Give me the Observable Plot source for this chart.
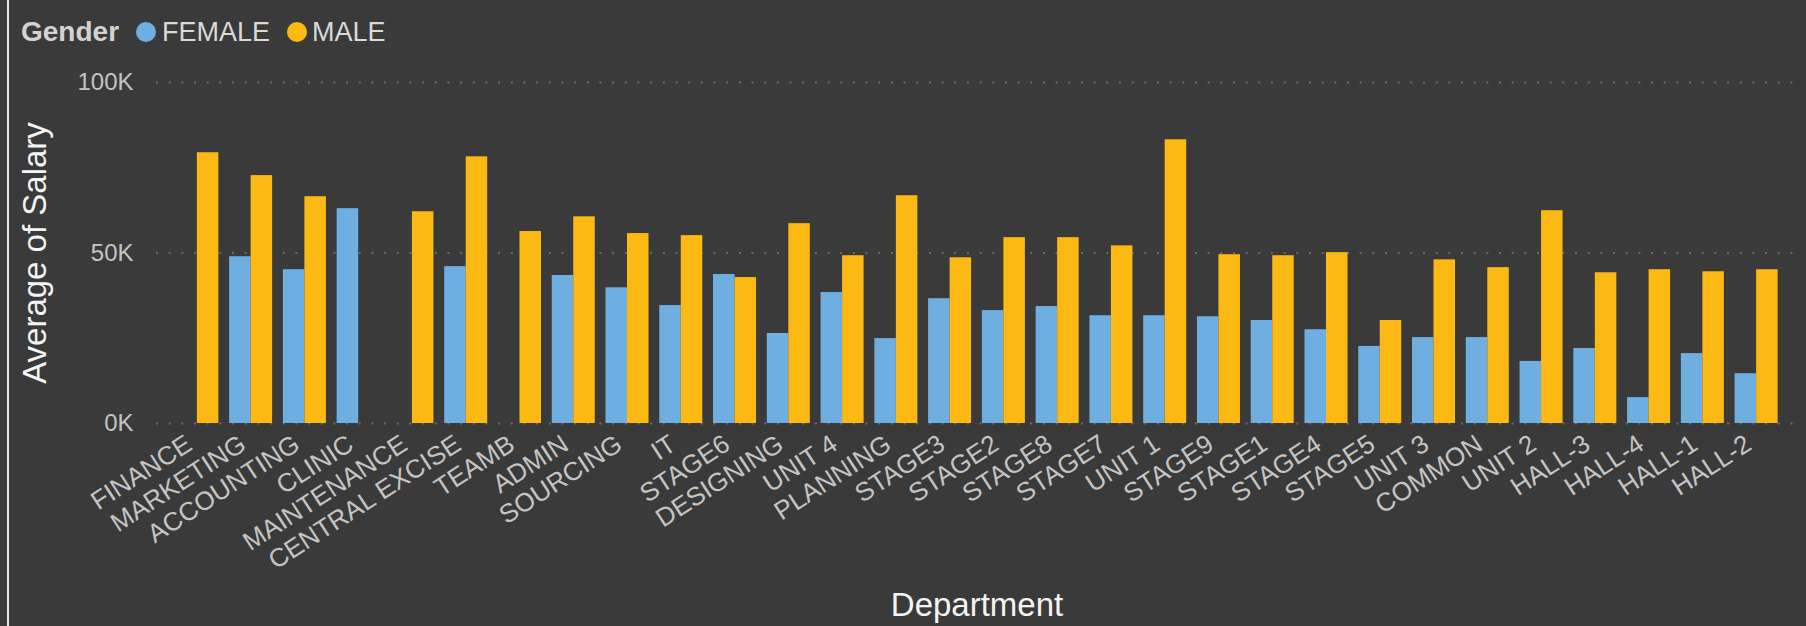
<!DOCTYPE html>
<html>
<head>
<meta charset="utf-8">
<script src="https://cdn.jsdelivr.net/npm/d3@7"></script>
<script src="https://cdn.jsdelivr.net/npm/@observablehq/plot@0.6"></script>
<style>
  html, body { margin: 0; padding: 0; background: #3a3a3a; }
  body { width: 1806px; height: 626px; overflow: hidden; position: relative; font-family: "Liberation Sans", Arial, sans-serif; }
  #legend { position: relative; height: 60px; }
  .lt { position: absolute; top: 12px; height: 40px; line-height: 40px; white-space: nowrap; }
  .sw { position: absolute; top: 22px; width: 20px; height: 20px; border-radius: 50%; }
  #border { position: absolute; left: 7px; top: 0; width: 2px; height: 626px; background: #e6e6e6; }
</style>
</head>
<body>
<div id="border"></div>
<div id="legend"></div>
<div id="chart"></div>
<script>
const departments = ["FINANCE","MARKETING","ACCOUNTING","CLINIC","MAINTENANCE","CENTRAL EXCISE","TEAMB","ADMIN","SOURCING","IT","STAGE6","DESIGNING","UNIT 4","PLANNING","STAGE3","STAGE2","STAGE8","STAGE7","UNIT 1","STAGE9","STAGE1","STAGE4","STAGE5","UNIT 3","COMMON","UNIT 2","HALL-3","HALL-4","HALL-1","HALL-2"];
const femaleSalary = [null,48900,45100,63000,null,46000,null,43400,39800,34600,43700,26400,38400,24900,36600,33100,34300,31600,31600,31300,30200,27500,22600,25200,25200,18200,22000,7600,20500,14600];
const maleSalary = [79400,72700,66500,null,62100,78200,56300,60600,55700,55100,42800,58600,49200,66800,48600,54500,54500,52100,83200,49500,49200,50100,30200,48000,45700,62400,44200,45100,44500,45100];
const genders = ["FEMALE","MALE"];
const genderColors = ["#6FAEE0","#FDB913"];
const yTicks = [0, 50000, 100000];

const W = 1806, H = 566;
const mL = 156, mR = 9, mT = 22, mB = 203;
const padInner = 0.2, padOuter = 0.36;

// legend
const legend = document.getElementById("legend");
function add(cls, text, left, style) {
  const s = document.createElement("span");
  s.className = cls;
  s.textContent = text; s.style.left = left + "px";
  Object.assign(s.style, style || {});
  legend.appendChild(s); return s;
}
add("lt", "Gender", 21, {fontWeight: "bold", fontSize: "28px", color: "#d2d2d2"});
const legendLefts = [[136, 162], [287, 312]];
genders.forEach((g, i) => {
  add("sw", "", legendLefts[i][0], {background: genderColors[i]});
  add("lt", g, legendLefts[i][1], {fontSize: "27px", color: "#d9d9d9"});
});

const female = departments.map((d, i) => ({dept: d, value: femaleSalary[i]})).filter(d => d.value != null);
const male = departments.map((d, i) => ({dept: d, value: maleSalary[i]})).filter(d => d.value != null);

const bw = d3.scaleBand().domain(departments).range([mL, W - mR]).paddingInner(padInner).paddingOuter(padOuter).bandwidth();

const chart = Plot.plot({
  width: W, height: H,
  marginLeft: mL, marginRight: mR, marginTop: mT, marginBottom: mB,
  style: {background: "transparent", color: "#c4c4c4", fontFamily: "'Liberation Sans', Arial, sans-serif", overflow: "visible"},
  x: {domain: departments, paddingInner: padInner, paddingOuter: padOuter, round: false, axis: null},
  y: {domain: [0, 100000]},
  marks: [
    Plot.ruleY(yTicks, {stroke: "#6c6c6c", strokeWidth: 2, strokeDasharray: "2 10.67"}),
    Plot.barY(female, {x: "dept", y: "value", fill: genderColors[0], insetLeft: 0, insetRight: bw / 2}),
    Plot.barY(male, {x: "dept", y: "value", fill: genderColors[1], insetLeft: bw / 2, insetRight: 0}),
    Plot.axisY({ticks: yTicks, tickFormat: d => d / 1000 + "K", tickSize: 0, tickPadding: 23, fontSize: 24, label: null}),
    Plot.text(departments, {x: d => d, text: d => d, frameAnchor: "bottom", rotate: -33, textAnchor: "end", lineAnchor: "middle", dx: -8, dy: 18, fontSize: 26, fill: "#c4c4c4"}),
    Plot.text(["Average of Salary"], {text: d => d, frameAnchor: "left", rotate: -90, textAnchor: "middle", dx: -134, lineAnchor: "top", fontSize: 33, fill: "#f4f4f4"}),
    Plot.text(["Department"], {text: d => d, frameAnchor: "bottom", textAnchor: "middle", dy: 182, lineAnchor: "middle", fontSize: 33, fill: "#f4f4f4"})
  ]
});
document.getElementById("chart").appendChild(chart);
</script>
</body>
</html>
